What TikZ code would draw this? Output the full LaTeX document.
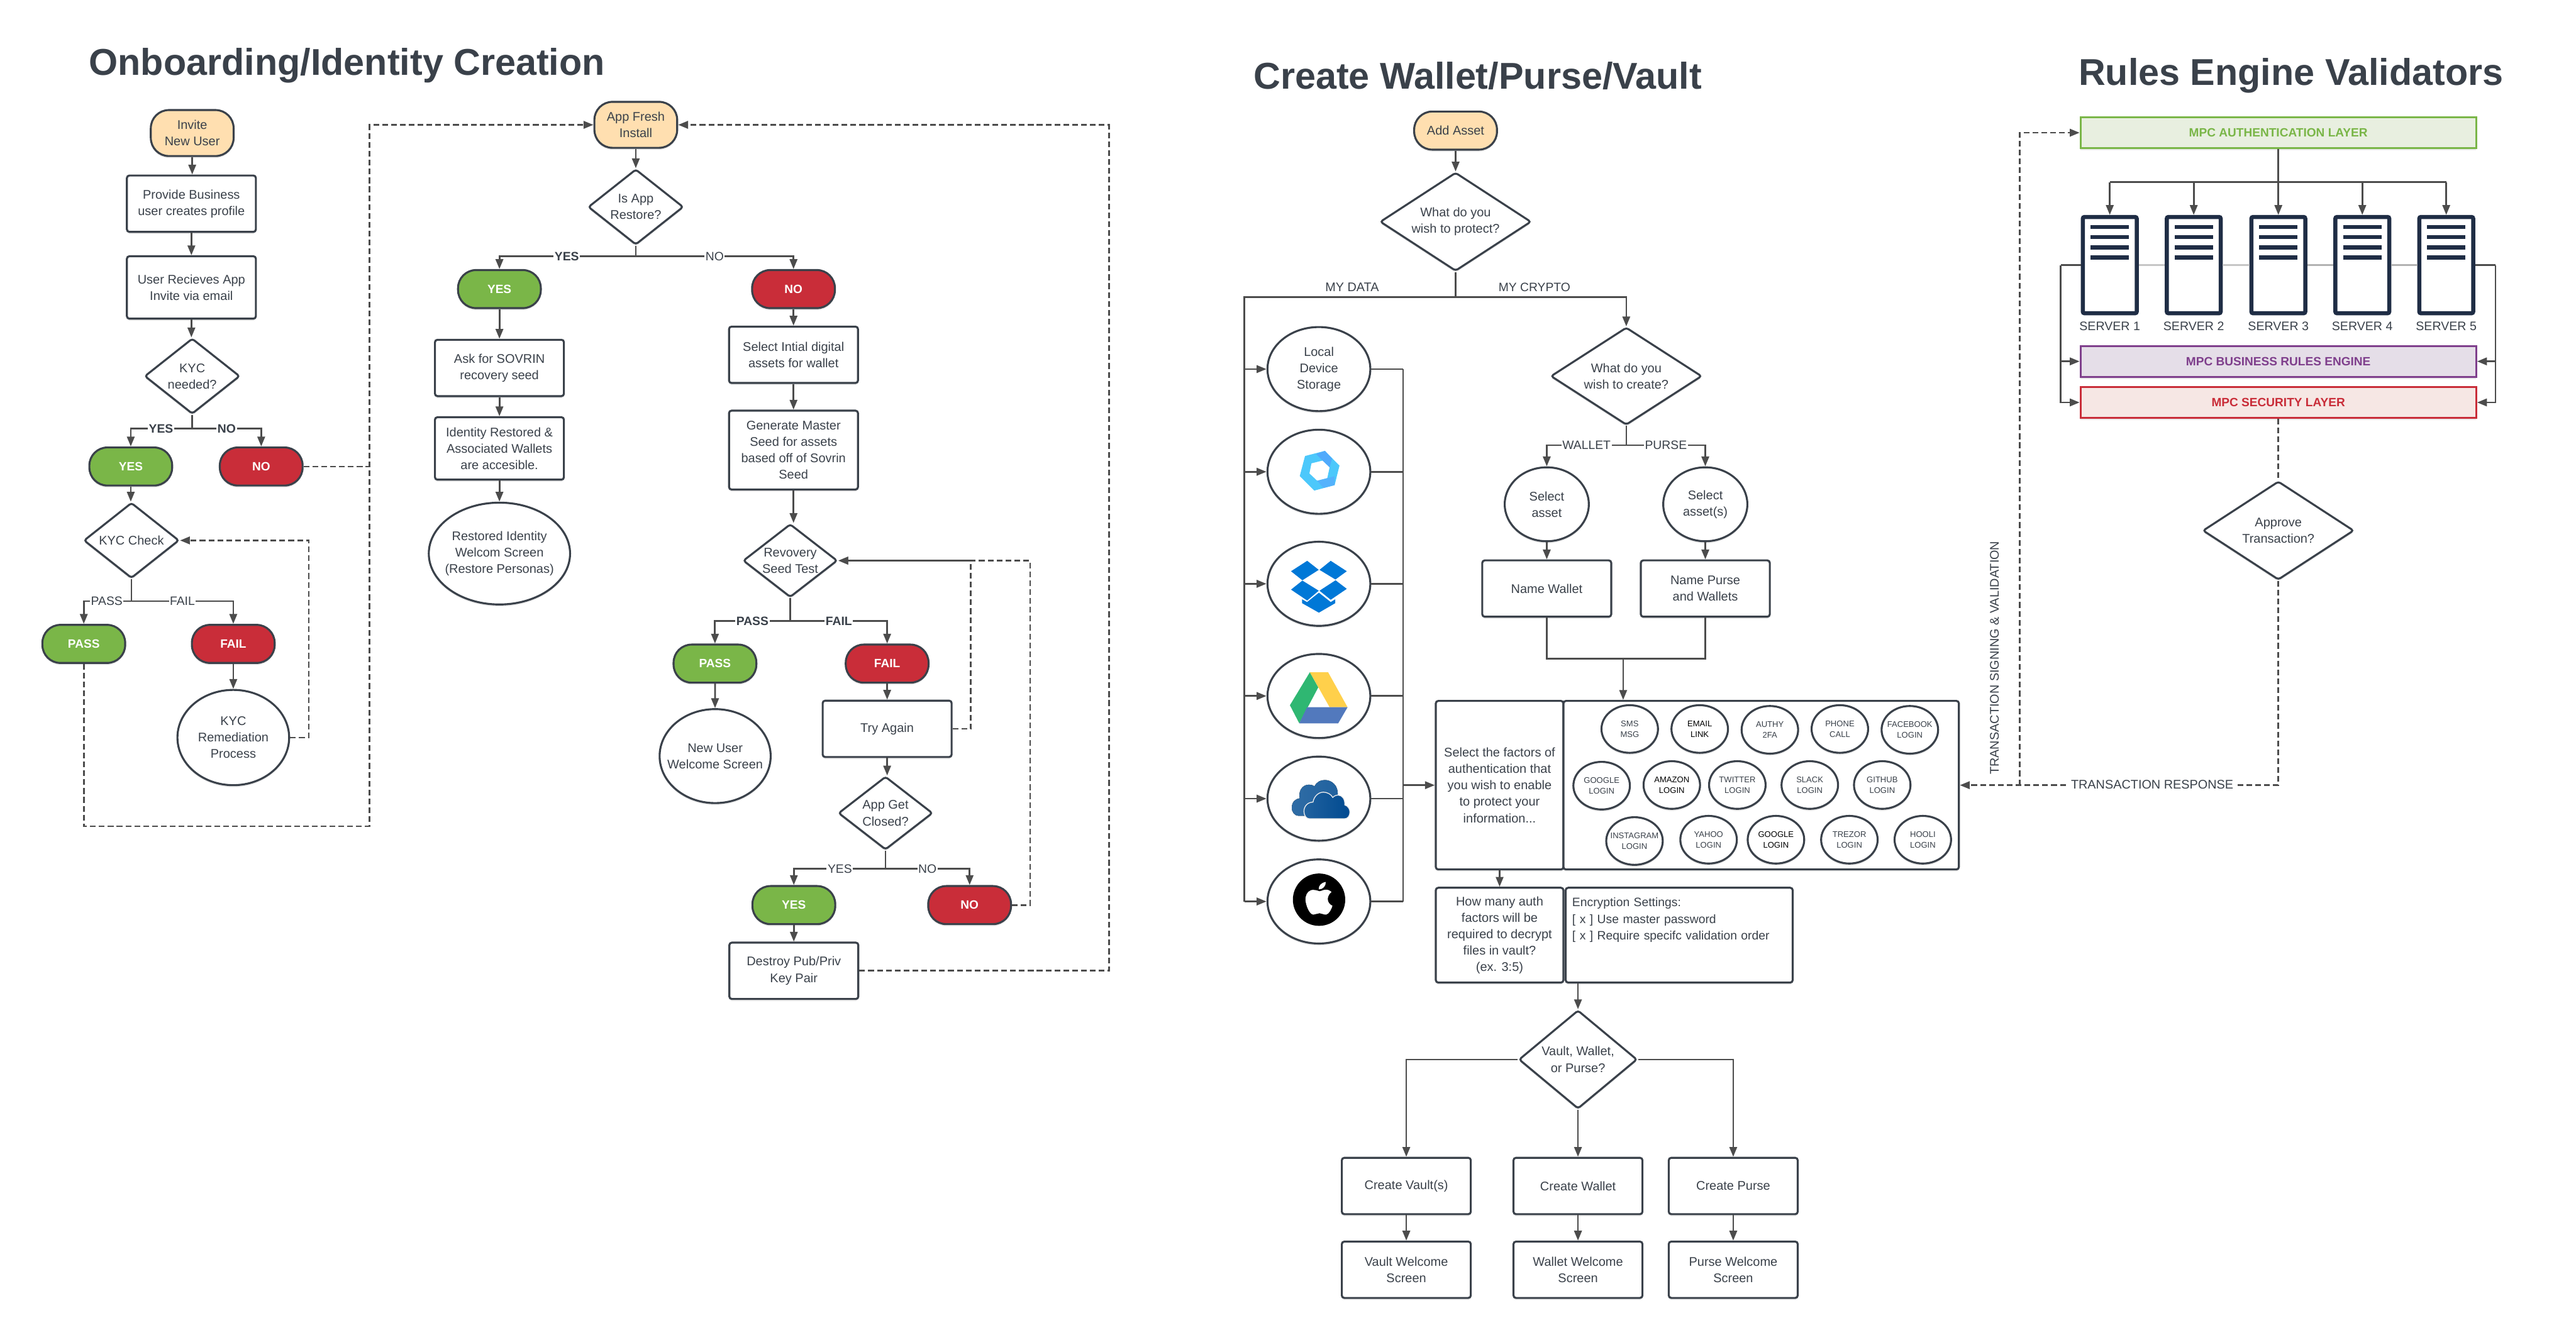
\documentclass[tikz,border=0pt]{standalone}
\usepackage{fontspec}
\setmainfont{Liberation Sans}
\usetikzlibrary{arrows.meta,shapes.geometric,shadows}
\definecolor{inkgray}{HTML}{3A414A}
\definecolor{linegray}{HTML}{4C4C4C}
\definecolor{startfill}{HTML}{FFDFB0}
\definecolor{yesgreen}{HTML}{7AB648}
\definecolor{nored}{HTML}{C92D39}
\definecolor{bizpurple}{HTML}{7F3F8C}
\definecolor{authfill}{HTML}{E8EFE0}
\definecolor{bizfill}{HTML}{E5DEE8}
\definecolor{secfill}{HTML}{F6E7E4}
\definecolor{serverblue}{HTML}{1F2D45}
\definecolor{hexblue}{HTML}{4CC8FB}
\definecolor{dropblue}{HTML}{0078D7}
\definecolor{drivegreen}{HTML}{2FB772}
\definecolor{driveyellow}{HTML}{FFD04B}
\definecolor{driveblue}{HTML}{5279BD}
\definecolor{cloudlight}{HTML}{2F6CA5}
\definecolor{clouddark}{HTML}{004A90}
\tikzset{
  softshadow/.style={drop shadow={shadow xshift=0pt,shadow yshift=-1.3pt,opacity=.16}},
  bodytext/.style={text=inkgray,align=center,font=\fontsize{7.65}{10}\selectfont},
  flow/.style={draw=linegray,line width=1.05pt,-{Triangle[length=6pt,width=4.6pt]}},
  plainline/.style={draw=linegray,line width=1.05pt},
  dashflow/.style={flow,dash pattern=on 3.5pt off 1.9pt},
  dashline/.style={plainline,dash pattern=on 3.5pt off 1.9pt},
  edgelab/.style={fill=white,inner sep=.6pt,text=inkgray,font=\fontsize{7.4}{9}\selectfont},
  edgebold/.style={edgelab,font=\fontsize{7.4}{9}\selectfont\bfseries},
  flowbox/.style={bodytext,draw=inkgray,fill=white,line width=1.2pt,rounded corners=1.5pt,softshadow,
    inner sep=0pt,minimum width=78.5,minimum height=#1},
  flowbox/.default=34.3,
  terminal/.style={draw=inkgray,line width=1.2pt,rounded corners=11pt,softshadow,inner sep=0pt,
    minimum width=50.4,minimum height=23.2,align=center},
  startnode/.style={terminal,bodytext,fill=startfill,rounded corners=11pt},
  yesnode/.style={terminal,fill=yesgreen,text=white,font=\fontsize{7.3}{9}\selectfont\bfseries},
  nonode/.style={terminal,fill=nored,text=white,font=\fontsize{7.3}{9}\selectfont\bfseries},
  choice/.style 2 args={diamond,bodytext,draw=inkgray,fill=white,line width=1.2pt,rounded corners=1.5pt,softshadow,
    aspect=1.26,inner sep=-7pt,minimum width=#1,minimum height=#2},
  bubble/.style 2 args={ellipse,bodytext,draw=inkgray,fill=white,line width=1.2pt,softshadow,
    inner sep=-7pt,minimum width=#1,minimum height=#2},
  factor/.style={ellipse,align=center,draw=inkgray,fill=white,line width=1.2pt,softshadow,
    inner sep=-6pt,minimum width=34.4,minimum height=29,font=\fontsize{5}{6.7}\selectfont},
  layer/.style 2 args={draw=#1,fill=#2,line width=1.2pt,text=#1,softshadow,inner sep=0pt,
    minimum width=240.7,minimum height=18.8,font=\fontsize{7.3}{9}\selectfont\bfseries},
  server/.style={draw=serverblue,fill=white,line width=2.5pt,rounded corners=1pt,softshadow,inner sep=0pt,
    minimum width=32.8,minimum height=58.6},
  servertag/.style={text=inkgray,inner sep=0pt,font=\fontsize{7.5}{9}\selectfont},
  headline/.style={text=inkgray,inner sep=0pt,font=\fontsize{22.7}{26}\selectfont\bfseries},
  logo/.style 2 args={shift={(#1,#2)},x=.0948pt,y=-.0948pt}
}
\begin{document}
\begin{tikzpicture}[x=1pt,y=-1pt]
  \useasboundingbox (0,0) rectangle (1568,802.2);
  \node[headline,anchor=west] (onboardtitle) at (54,40) {Onboarding/Identity Creation};
  \node[headline] (wallettitle) at (899.5,46) {Create Wallet/Purse/Vault};
  \node[headline] (rulestitle) at (1394.5,46) {Rules Engine Validators};

  \node[startnode,minimum height=28] (invite) at (117,81) {Invite\\New User};
  \node[flowbox] (profile) at (116.5,124) {Provide Business\\user creates profile};
  \node[flowbox=38] (appinvite) at (116.5,175) {User Recieves App\\Invite via email};
  \node[choice={58}{46}] (kycneed) at (117,229) {KYC\\needed?};
  \node[yesnode] (kycyes) at (79.6,284) {YES};
  \node[nonode] (kycno) at (159,284) {NO};
  \node[choice={58}{46}] (kyccheck) at (80,329) {KYC Check};
  \node[yesnode] (kycpass) at (51,392) {PASS};
  \node[nonode] (kycfail) at (142,392) {FAIL};
  \node[bubble={68}{58}] (remedy) at (142,449) {KYC\\Remediation\\Process};
  \coordinate (kycjoin) at (117,261);
  \coordinate (checkjoin) at (80,366);
  \coordinate (remedyjoin) at (188,329);
  \coordinate (returnlow) at (225,503);
  \coordinate (returntop) at (225,76);
  \draw[flow] (invite) -- (invite |- profile.north);
  \draw[flow] (profile) -- (appinvite);
  \draw[flow] (appinvite) -- (appinvite |- kycneed.north);
  \draw[plainline] (kycneed.south) -- (kycjoin);
  \draw[flow] (kycjoin) -| (kycyes.north);
  \draw[flow] (kycjoin) -| (kycno.north);
  \draw[flow] (kycyes) -- (kycyes |- kyccheck.north);
  \draw[plainline] (kyccheck.south) -- (checkjoin);
  \draw[flow] (checkjoin) -| (kycpass.north);
  \draw[flow] (checkjoin) -| (kycfail.north);
  \draw[flow] (kycfail) -- (remedy);
  \draw[dashflow] (remedy.east) -| (remedyjoin) -- (kyccheck.east);
  \draw[dashline] (kycno.east) -- (kycno.east -| returntop);
  \node[edgebold] (lblkycyes) at (98,261) {YES};
  \node[edgebold] (lblkycno) at (138,261) {NO};
  \node[edgelab] (lblkycpass) at (65,366) {PASS};
  \node[edgelab] (lblkycfail) at (111,366) {FAIL};

  \node[startnode,minimum height=28] (appfresh) at (387,76) {App Fresh\\Install};
  \node[choice={58}{46}] (restoreq) at (387,126) {Is App\\Restore?};
  \node[yesnode] (restoreyes) at (304,176) {YES};
  \node[nonode] (restoreno) at (483,176) {NO};
  \node[flowbox] (askseed) at (304,224) {Ask for SOVRIN\\recovery seed};
  \node[flowbox=38] (restored) at (304,273) {Identity Restored \&\\Associated Wallets\\are accesible.};
  \node[bubble={86}{62}] (restorewelcome) at (304,337) {Restored Identity\\Welcom Screen\\(Restore Personas)};
  \node[flowbox] (selectdigital) at (483,216) {Select Intial digital\\assets for wallet};
  \node[flowbox=48] (generate) at (483,274) {Generate Master\\Seed for assets\\based off of Sovrin\\Seed};
  \node[choice={57.4}{44.6}] (seedtest) at (481,341.3) {Revovery\\Seed Test};
  \node[yesnode] (seedpass) at (435.2,404) {PASS};
  \node[nonode] (seedfail) at (540,404) {FAIL};
  \node[bubble={67.6}{57.2}] (newuser) at (435.3,460.3) {New User\\Welcome Screen};
  \node[flowbox] (tryagain) at (540,443.7) {Try Again};
  \node[choice={57.4}{44.6}] (closedq) at (539,495) {App Get\\Closed?};
  \node[yesnode] (closedyes) at (483.2,551) {YES};
  \node[nonode] (closedno) at (590.2,551) {NO};
  \node[flowbox] (destroy) at (483.2,591) {Destroy Pub/Priv\\Key Pair};
  \coordinate (restorejoin) at (387,156);
  \coordinate (seedjoin) at (481,378);
  \coordinate (closedjoin) at (539,528.9);
  \coordinate (retryjoin) at (591,341.3);
  \coordinate (closedback) at (627,341.3);
  \coordinate (returnright) at (675,76);
  \draw[flow] (appfresh) -- (restoreq);
  \draw[plainline] (restoreq.south) -- (restorejoin);
  \draw[flow] (restorejoin) -| (restoreyes.north);
  \draw[flow] (restorejoin) -| (restoreno.north);
  \draw[flow] (restoreyes) -- (askseed);
  \draw[flow] (askseed) -- (restored);
  \draw[flow] (restored) -- (restorewelcome);
  \draw[flow] (restoreno) -- (selectdigital);
  \draw[flow] (selectdigital) -- (generate);
  \draw[flow] (generate.south) -- (generate.south |- seedtest.north);
  \draw[plainline] (seedtest.south) -- (seedjoin);
  \draw[flow] (seedjoin) -| (seedpass.north);
  \draw[flow] (seedjoin) -| (seedfail.north);
  \draw[flow] (seedpass) -- (newuser);
  \draw[flow] (seedfail) -- (tryagain);
  \draw[flow] (tryagain.south) -- (tryagain.south |- closedq.north);
  \draw[plainline] (closedq.south) -- (closedjoin);
  \draw[flow] (closedjoin) -| (closedyes.north);
  \draw[flow] (closedjoin) -| (closedno.north);
  \draw[flow] (closedyes) -- (destroy);
  \draw[dashflow] (tryagain.east) -| (retryjoin) -- (seedtest.east);
  \draw[dashflow] (closedno.east) -| (closedback) -- (seedtest.east);
  \draw[dashflow] (kycpass.south) |- (returnlow) -- (returntop) -- (appfresh.west);
  \draw[dashflow] (destroy.east) -| (returnright) -- (appfresh.east);
  \node[edgebold] (lblrestoreyes) at (345,156) {YES};
  \node[edgelab] (lblrestoreno) at (435,156) {NO};
  \node[edgebold] (lblseedpass) at (458,378) {PASS};
  \node[edgebold] (lblseedfail) at (510.6,378) {FAIL};
  \node[edgelab] (lblclosedyes) at (511.2,528.9) {YES};
  \node[edgelab] (lblclosedno) at (564.5,528.9) {NO};

  \node[startnode] (addasset) at (886,79.5) {Add Asset};
  \node[choice={92}{60}] (protectq) at (886,135) {What do you\\wish to protect?};
  \coordinate (protectjoin) at (886,181);
  \coordinate (storeleft) at (757.4,181);
  \coordinate (storeright) at (854,224.7);
  \foreach \n/\y/\t in {localstore/224.7/{Local\\Device\\Storage}, hexstore/287.2/{}, dropstore/355.4/{}, drivestore/423.7/{}, cloudstore/486.2/{}, applestore/548.8/{}} {
    \node[bubble={62.6}{51.2}] (\n) at (802.8,\y) {\t};
    \draw[flow] (storeleft |- \n.west) -- (\n.west);
    \draw[plainline] (\n.east) -- (\n.east -| storeright);
  }
  \begin{scope}[logo={768.1}{256}]
    \fill[hexblue,even odd rule] (277,228) -- (405,195) -- (498,290) -- (467,415) -- (336,450) -- (243,357) -- cycle
      (318,275) -- (390,257) -- (435,300) -- (420,370) -- (355,387) -- (305,340) -- cycle;
    \fill[hexblue!80!blue!90!white] (348,215) -- (405,195) -- (450,245) -- (435,300) -- (390,257) -- cycle;
    \fill[hexblue!85!blue!90!white] (355,387) -- (467,358) -- (467,415) -- (395,433) -- cycle;
  \end{scope}
  \begin{scope}[logo={768.1}{321.5}]
    \fill[dropblue] (187,277) -- (291,210) -- (365,268) -- (260,335) -- cycle
      (370,268) -- (442,210) -- (545,277) -- (472,330) -- cycle
      (187,395) -- (260,337) -- (365,402) -- (291,465) -- cycle
      (370,402) -- (473,335) -- (545,390) -- (442,460) -- cycle
      (366,415) -- (442,475) -- (471,457) -- (471,482) -- (366,543) -- (258,482) -- (258,457) -- (290,475) -- cycle;
  \end{scope}
  \begin{scope}[logo={768.1}{389.8}]
    \fill[drivegreen] (308,205) -- (362,302) -- (240,533) -- (180,417) -- cycle;
    \fill[driveyellow] (308,205) -- (425,205) -- (550,430) -- (435,430) -- cycle;
    \fill[driveblue] (290,430) -- (550,430) -- (490,533) -- (240,533) -- cycle;
  \end{scope}
  \begin{scope}[logo={768.1}{452.3}]
    \fill[left color=cloudlight,right color=cloudlight!70!clouddark] (240,468) .. controls (205,468) and (192,440) .. (192,415) .. controls (192,380) and (215,358) .. (243,355) .. controls (232,310) and (260,268) .. (300,268) .. controls (318,268) and (330,272) .. (338,278) .. controls (352,250) and (375,238) .. (405,238) .. controls (450,238) and (490,275) .. (487,330) -- (400,468) -- cycle;
    \draw[gray!15,line width=.5pt,left color=cloudlight!70!clouddark,right color=clouddark] (305,487) .. controls (285,487) and (270,465) .. (270,440) .. controls (270,405) and (295,380) .. (328,380) .. controls (335,340) and (365,316) .. (395,316) .. controls (420,316) and (445,330) .. (455,350) .. controls (465,338) and (480,335) .. (490,335) .. controls (515,335) and (535,360) .. (532,398) .. controls (555,405) and (565,425) .. (565,445) .. controls (565,470) and (550,487) .. (530,487) -- cycle;
  \end{scope}
  \begin{scope}[logo={768.1}{514.9}]
    \fill[black] (367,346) circle [radius=168];
    \fill[white] (370,292) .. controls (350,285) and (330,280) .. (315,285) .. controls (290,295) and (278,320) .. (280,350) .. controls (283,385) and (305,440) .. (330,442) .. controls (345,442) and (355,433) .. (370,433) .. controls (385,433) and (395,443) .. (412,442) .. controls (430,440) and (448,405) .. (453,385) .. controls (435,378) and (422,360) .. (423,340) .. controls (424,322) and (435,305) .. (447,297) .. controls (435,285) and (420,280) .. (405,282) .. controls (390,284) and (380,292) .. (370,292) -- cycle;
    \fill[white] (365,280) .. controls (362,255) and (385,235) .. (410,232) .. controls (412,258) and (392,280) .. (365,280) -- cycle;
  \end{scope}
  \node[choice={92}{59.4}] (createq) at (989.9,229) {What do you\\wish to create?};
  \node[bubble={51.2}{45}] (selectwallet) at (941.5,307) {Select\\asset};
  \node[bubble={51.2}{45}] (selectpurse) at (1038,307) {Select\\asset(s)};
  \node[flowbox] (namewallet) at (941.5,358.3) {Name Wallet};
  \node[flowbox] (namepurse) at (1038,358.3) {Name Purse\\and Wallets};
  \node[flowbox,minimum width=77.7,minimum height=102.6] (factorbox) at (912.8,478) {Select the factors of\\authentication that\\you wish to enable\\to protect your\\information...};
  \node[flowbox,minimum width=240.7,minimum height=102.6] (authbox) at (1072,478) {};
  \foreach \n/\x/\y/\a/\b/\c in {sms/992/443.8/SMS/MSG/inkgray, email/1034.6/443.8/EMAIL/LINK/black, authy/1077.3/444.3/AUTHY/2FA/inkgray, phone/1119.9/443.8/PHONE/CALL/inkgray, facebook/1162.5/444.3/FACEBOOK/LOGIN/inkgray,
    googleone/974.9/478.3/GOOGLE/LOGIN/inkgray, amazon/1017.6/477.9/AMAZON/LOGIN/black, twitter/1057.5/477.9/TWITTER/LOGIN/inkgray, slack/1101.6/477.9/SLACK/LOGIN/inkgray, github/1145.7/477.9/GITHUB/LOGIN/inkgray,
    instagram/994.9/512/INSTAGRAM/LOGIN/inkgray, yahoo/1040/511.2/YAHOO/LOGIN/inkgray, googletwo/1081/511.2/GOOGLE/LOGIN/black, trezor/1125.7/511.2/TREZOR/LOGIN/inkgray, hooli/1170.4/511.2/HOOLI/LOGIN/inkgray} {
    \node[factor,text=\c] (\n) at (\x,\y) {\a\\\b};
  }
  \node[flowbox,minimum width=77.7,minimum height=57.7] (howmany) at (912.8,569.3) {How many auth\\factors will be\\required to decrypt\\files in vault?\\(ex. 3:5)};
  \node[flowbox,align=left,text width=130.2,inner xsep=4pt,minimum height=57.7,font=\fontsize{7.4}{10}\selectfont] (encrypt) at (1022.1,569.3) {Encryption Settings:\\{[} x ] Use master password\\{[} x ] Require specifc validation order\\\mbox{}\\\mbox{}};
  \node[choice={72}{60}] (vaultq) at (960.5,645) {Vault, Wallet,\\or Purse?};
  \node[flowbox] (makevault) at (856,722) {Create Vault(s)};
  \node[flowbox] (makewallet) at (960.5,722) {Create Wallet};
  \node[flowbox] (makepurse) at (1055,722) {Create Purse};
  \node[flowbox] (vaultscreen) at (856,773) {Vault Welcome\\Screen};
  \node[flowbox] (walletscreen) at (960.5,773) {Wallet Welcome\\Screen};
  \node[flowbox] (pursescreen) at (1055,773) {Purse Welcome\\Screen};
  \coordinate (createjoin) at (989.9,271);
  \coordinate (namejoin) at (988,401);
  \draw[flow] (addasset) -- (protectq);
  \draw[plainline] (protectq.south) -- (protectjoin) -- (storeleft) -- (storeleft |- applestore.west);
  \draw[flow] (protectjoin) -| (createq.north);
  \draw[plainline] (storeright) -- (storeright |- applestore.east);
  \draw[flow] (storeright |- factorbox.west) -- (factorbox.west);
  \draw[plainline] (createq.south) -- (createjoin);
  \draw[flow] (createjoin) -| (selectwallet.north);
  \draw[flow] (createjoin) -| (selectpurse.north);
  \draw[flow] (selectwallet) -- (namewallet);
  \draw[flow] (selectpurse) -- (namepurse);
  \draw[plainline] (namewallet.south) |- (namejoin);
  \draw[plainline] (namepurse.south) |- (namejoin);
  \draw[flow] (namejoin) -- (namejoin |- authbox.north);
  \draw[flow] (factorbox) -- (howmany);
  \draw[flow] (encrypt.south -| vaultq.north) -- (vaultq.north);
  \draw[flow] (vaultq.west) -| (makevault.north);
  \draw[flow] (vaultq.east) -| (makepurse.north);
  \draw[flow] (vaultq.south) -- (makewallet.north);
  \draw[flow] (makevault) -- (vaultscreen);
  \draw[flow] (makewallet) -- (walletscreen);
  \draw[flow] (makepurse) -- (pursescreen);
  \node[edgelab,font=\fontsize{7.6}{10}\selectfont,fill=none] (lblmydata) at (823,175) {MY DATA};
  \node[edgelab,font=\fontsize{7.4}{10}\selectfont,fill=none] (lblmycrypto) at (934,175) {MY CRYPTO};
  \node[edgelab] (lblwallet) at (965.7,271) {WALLET};
  \node[edgelab] (lblpurse) at (1014,271) {PURSE};

  \node[layer={yesgreen}{authfill}] (mpcauth) at (1386.8,80.8) {MPC AUTHENTICATION LAYER};
  \coordinate (serverbus) at (1386.8,110.9);
  \foreach \i/\x in {1/1284.2, 2/1335.3, 3/1386.8, 4/1437.9, 5/1489} {
    \node[server] (srv\i) at (\x,161.4) {};
    \foreach \y in {138.2, 144.4, 150.6, 156.7} {
      \fill[serverblue] (\x-11.7,\y-1.25) rectangle (\x+11.7,\y+1.25);
    }
    \node[servertag] (srvtag\i) at (\x,198.4) {SERVER \i};
    \draw[flow] (serverbus -| srv\i.north) -- (srv\i.north);
  }
  \draw[plainline] (mpcauth.south) -- (serverbus);
  \draw[plainline] (srv1.north |- serverbus) -- (srv5.north |- serverbus);
  \draw[line width=1.1pt,gray!45] (srv1.east) -- (srv2.west);
  \draw[line width=1.1pt,gray!45] (srv2.east) -- (srv3.west);
  \draw[line width=1.1pt,gray!60] (srv3.east) -- (srv4.west);
  \draw[line width=1.1pt,gray!60] (srv4.east) -- (srv5.west);
  \node[layer={bizpurple}{bizfill}] (mpcbiz) at (1386.8,220) {MPC BUSINESS RULES ENGINE};
  \node[layer={nored}{secfill}] (mpcsec) at (1386.8,245) {MPC SECURITY LAYER};
  \node[choice={92}{60}] (approve) at (1386.8,323) {Approve\\Transaction?};
  \coordinate (busleft) at (1254.4,161.4);
  \coordinate (busright) at (1519,161.4);
  \coordinate (signjoin) at (1229.4,478);
  \draw[plainline] (srv1.west) -- (busleft);
  \draw[plainline] (srv5.east) -- (busright);
  \draw[flow] (busleft) |- (mpcsec.west);
  \draw[flow] (busright) |- (mpcsec.east);
  \draw[flow] (busleft |- mpcbiz.west) -- (mpcbiz.west);
  \draw[flow] (busright |- mpcbiz.east) -- (mpcbiz.east);
  \draw[dashline] (mpcsec.south) -- (approve.north);
  \draw[dashflow] (approve.south) |- (authbox.east);
  \draw[dashflow] (signjoin) |- (mpcauth.west);
  \node[edgelab,font=\fontsize{7.6}{10}\selectfont,inner xsep=2pt] (lblresponse) at (1310,477.5) {TRANSACTION RESPONSE};
  \node[edgelab,font=\fontsize{7.6}{10}\selectfont,fill=none,rotate=90] (lblsigning) at (1214,400.5) {TRANSACTION SIGNING \& VALIDATION};
\end{tikzpicture}
\end{document}
